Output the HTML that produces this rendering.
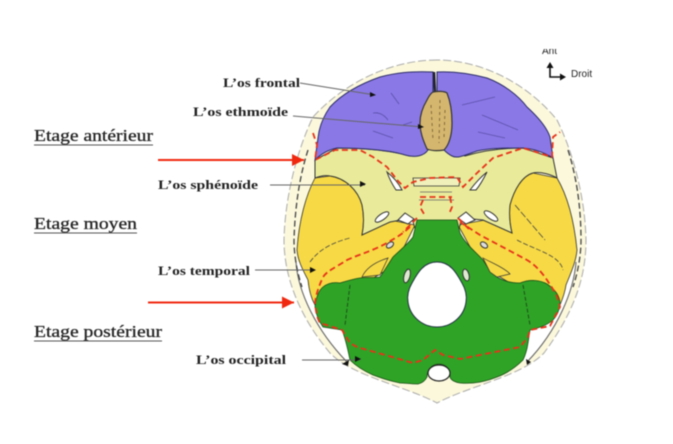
<!DOCTYPE html>
<html><head><meta charset="utf-8"><style>
html,body{margin:0;padding:0;background:#fff;width:673px;height:444px;overflow:hidden}
svg{display:block;filter:blur(.6px)}
.l{font:bold 12.500px "Liberation Serif",serif;fill:#222}
.e{font:16.500px "Liberation Serif",serif;fill:#222;stroke:#333;stroke-width:.35}
.s{font:10px "Liberation Sans",sans-serif;fill:#222}
</style></head><body>
<svg width="673" height="444" viewBox="0 0 673 444" xmlns="http://www.w3.org/2000/svg">
<defs><marker id="r" markerWidth="8" markerHeight="8" refX="6" refY="3" orient="auto"><path d="M0 0L6 3L0 6z" fill="#f02810"/></marker></defs>
<!-- skull ring -->
<path d="M437 60C392 60 345 82 313 117C298 148 285 195 284 240C284 275 298 315 330 353C352 376 405 386 437 403C469 386 522 376 544 353C572 315 586 280 586 240C585 195 572 150 557 120C528 84 482 60 437 60Z" fill="#fbf8dc" stroke="#aaa" stroke-width="1" stroke-dasharray="8 3"/>
<!-- white crescents inside the ring -->
<path d="M296 262C298 292 316 330 347 362L400 340L360 270L310 262Z" fill="#fff"/>
<path d="M576 262C574 290 558 330 527 362L480 340L510 270L560 262Z" fill="#fff"/>
<path d="M296 262C298 292 316 330 347 362M576 262C574 290 558 330 527 362" fill="none" stroke="#666" stroke-width="1.100"/>
<!-- yellow temporals -->
<path d="M315 178C306 195 299 220 297 250C298 262 304 272 308 280C309 290 311 298 315 305L345 295L395 265L415 225L390 220L362 235C364 225 364 215 362 205C358 190 345 178 330 176Z" fill="#f6d944" stroke="#333" stroke-width=".8"/>
<path d="M557 178C567 195 574 220 577 250C576 262 570 275 566 285C565 292 563 298 560 305L530 295L480 265L458 225L485 220L512 233C510 225 509 215 510 205C514 190 522 176 533 173Z" fill="#f6d944" stroke="#333" stroke-width=".8"/>
<!-- sphenoid -->
<path d="M315 160L337 148C360 148 390 150 410 156L437 145L465 156C485 150 505 148 523 148L553 158L557 178C552 175 540 171 533 173C522 176 514 190 510 205C509 215 510 225 512 233L483 220L462 218L458 232H416L412 218L390 222L362 235C364 225 364 215 362 205C358 190 345 178 330 176C325 175 320 176 315 178Z" fill="#e9eb9a" stroke="#333" stroke-width="1"/>
<!-- purple -->
<path d="M433 72C410 71 395 73 380 77C360 84 343 93 330 107C323 117 319 128 318 138L315 160C320 155 327 150 337 148C360 148 390 150 405 155C415 158 424 156 428 150L433 92Z" fill="#8a78e6" stroke="#2b2b66" stroke-width="1"/>
<path d="M437 72C455 71 472 74 487 78C503 84 518 95 527 107C538 117 547 128 550 137L553 158C545 153 535 149 523 148C505 148 490 148 477 151C465 155 458 159 452 156C448 154 446 152 444 150L437 92Z" fill="#8a78e6" stroke="#2b2b66" stroke-width="1"/>
<path d="M434 72L435 92" stroke="#223" stroke-width="2.500"/>
<g fill="none" stroke="#5a50a8" stroke-width=".8"><path d="M391 93L399 104M373 113C380 112 385 116 388 120M373 131L393 138M462 105L495 97M482 115L518 130M478 132L505 138M403 125L412 122"/></g>
<!-- ethmoid -->
<path d="M433 92C438 91 444 91 447 93C451 103 452 113 452 123C452 135 449 145 444 150C438 151 432 151 427 149C423 140 420 132 420 123C420 113 424 105 427 100C429 96 431 93 433 92Z" fill="#d5b66f" stroke="#333" stroke-width="1.200"/>
<path d="M431 105L433 140M440 100L439 143M445 110L444 138" stroke="#7a6535" stroke-width=".9" stroke-dasharray="3 3"/>
<!-- green -->
<path d="M417 220H457L460 233C466 245 476 252 483 260C488 268 492 274 497 277C505 282 513 283 520 283C530 279 540 280 547 284C556 290 560 297 560 304C559 312 556 317 553 320C546 326 538 328 530 330L528 343C527 350 525 356 523 360C515 368 505 374 497 377C485 382 472 384 460 383C454 382 451 380 450 377C451 370 446 364 439 364C432 364 427 370 427 377C425 381 422 383 418 384C410 384 405 383 400 383C390 381 381 378 373 375C364 371 356 366 350 360C348 350 346 340 342 330L323 327C318 320 316 314 315 307C316 298 318 291 323 287C328 283 334 282 340 283C347 281 353 279 360 278C367 277 374 278 380 277C385 270 389 263 393 257C400 250 408 244 413 237Z" fill="#2ea326" stroke="#1d4d18" stroke-width=".8"/>
<path d="M350 285L345 325M523 285L530 325" stroke="#1d5018" stroke-width="1" stroke-dasharray="4 2" fill="none"/>
<!-- foramen magnum -->
<path d="M437 262C423 262 417 274 412 283C408 290 407 296 408 302C410 317 423 327 437 327C451 327 464 317 466 302C467 296 466 290 462 283C457 274 451 262 437 262Z" fill="#fff" stroke="#234" stroke-width="1"/>
<ellipse cx="439" cy="373" rx="11" ry="8" fill="#fff" stroke="#222" stroke-width="1.200"/>
<ellipse cx="407" cy="276" rx="3" ry="7" fill="#dfe8d0" stroke="#333" transform="rotate(15 407 276)"/>
<ellipse cx="466" cy="275" rx="3" ry="6" fill="#dfe8d0" stroke="#333" transform="rotate(-15 466 275)"/>
<!-- small foramina -->
<g fill="#fff" stroke="#333" stroke-width="1"><path d="M387 172C392 176 398 182 402 190L396 190C392 184 389 178 387 172Z"/><path d="M487 172C482 176 476 182 470 190L476 190C481 184 484 178 487 172Z"/><path d="M398 220L405 213L414 219L408 224Z"/><path d="M475 220L466 212L458 218L466 224Z"/><ellipse cx="382" cy="217" rx="8" ry="3" transform="rotate(-35 382 217)"/><ellipse cx="491" cy="216" rx="8" ry="3" transform="rotate(35 491 216)"/><ellipse cx="390" cy="245" rx="4" ry="2.500" fill="#ddd" transform="rotate(-35 390 245)"/><ellipse cx="484" cy="245" rx="4" ry="2.500" fill="#ddd" transform="rotate(35 484 245)"/></g>
<path d="M413 178H460L459 186H414Z" fill="#f0f0ba" stroke="#333" stroke-width=".8"/>
<path d="M420 192H452M419 200H454" stroke="#666" stroke-width=".8"/>
<g fill="#f6d944" stroke="#333" stroke-width=".7"><path d="M362 277C366 268 375 262 388 258L380 275Z"/><path d="M483 258C490 262 505 268 510 274L497 277L490 272Z"/></g>
<path d="M310 262C320 248 335 242 350 238M517 240C535 250 560 255 563 270" fill="none" stroke="#444" stroke-width=".8" stroke-dasharray="5 2"/>
<path d="M515 205L545 240" stroke="#444" stroke-width=".8" stroke-dasharray="7 2"/>
<path d="M308 150C300 175 295 205 294 240C294 255 297 272 302 287M568 150C576 175 581 205 581 240C581 255 578 272 573 287" fill="none" stroke="#444" stroke-width="1.300" stroke-dasharray="6 3"/>
<!-- red dashes -->
<g fill="none" stroke="#e8321a" stroke-width="1.800" stroke-dasharray="6 3.500">
<path d="M313 133L317 145L315 160L335 150L360 150L373 157L387 167L398 181L405 188L413 182L430 178L457 177L463 187L477 173L493 158L523 148L552 157L553 137L560 132"/>
<path d="M420 197H452M423 200L420 207L424 214M450 197L452 207L449 214M417 218L403 232M458 218L470 230"/>
<path d="M410 227C400 236 395 238 387 243C370 252 360 254 347 260C335 268 328 270 323 277C318 288 316 295 315 303C316 312 317 318 320 323L342 330L350 343L357 347L413 363L423 360L435 350L443 355L460 359L520 347L528 337L530 330L550 326L560 307C558 295 552 288 547 280C540 270 535 265 527 260L480 235L460 222"/>
</g>
<!-- red arrows -->
<path d="M158 160H304" stroke="#f02810" stroke-width="2" marker-end="url(#r)"/>
<path d="M148 302.500H294" stroke="#f02810" stroke-width="2" marker-end="url(#r)"/>
<!-- leaders -->
<g stroke="#666" stroke-width="1" fill="none"><path d="M300 83L375 95"/><path d="M293 116L423 127"/><path d="M270 185H365"/><path d="M255 270H315"/><path d="M302 360H360"/></g>
<g fill="#111"><path d="M376 95L370 92L370 97Z"/><path d="M424 127L418 124V129Z"/><path d="M366 184L360 181V187Z"/><path d="M316 270L310 267V273Z"/><path d="M361 359L355 356V362Z"/><path d="M342 364L349 360L348 366Z"/><path d="M531 362L526 359L527 365Z"/></g>
<!-- labels -->
<text class="l" x="223" y="87" textLength="77" lengthAdjust="spacingAndGlyphs">L’os frontal</text>
<text class="l" x="193" y="116" textLength="95" lengthAdjust="spacingAndGlyphs">L’os ethmoïde</text>
<text class="l" x="158" y="189" textLength="100" lengthAdjust="spacingAndGlyphs">L’os sphénoïde</text>
<text class="l" x="158" y="275" textLength="92" lengthAdjust="spacingAndGlyphs">L’os temporal</text>
<text class="l" x="196" y="364" textLength="90" lengthAdjust="spacingAndGlyphs">L’os occipital</text>
<text class="e" x="34" y="141" textLength="119" lengthAdjust="spacingAndGlyphs">Etage antérieur</text>
<path d="M34 145H153" stroke="#555" stroke-width="1"/>
<text class="e" x="34" y="229" textLength="103" lengthAdjust="spacingAndGlyphs">Etage moyen</text>
<path d="M34 233H137" stroke="#555" stroke-width="1"/>
<text class="e" x="34" y="337" textLength="128" lengthAdjust="spacingAndGlyphs">Etage postérieur</text>
<path d="M34 341H162" stroke="#555" stroke-width="1"/>
<!-- compass -->
<text class="s" x="542" y="54">Ant</text>
<rect x="535" y="38" width="40" height="11" fill="#fff"/>
<path d="M550 66V77H562" fill="none" stroke="#111" stroke-width="1.600"/>
<path d="M550 62L546.500 68H553.500ZM566 77L560 73.500V80.500Z" fill="#111"/>
<text class="s" x="571" y="77">Droit</text>
</svg>
</body></html>
